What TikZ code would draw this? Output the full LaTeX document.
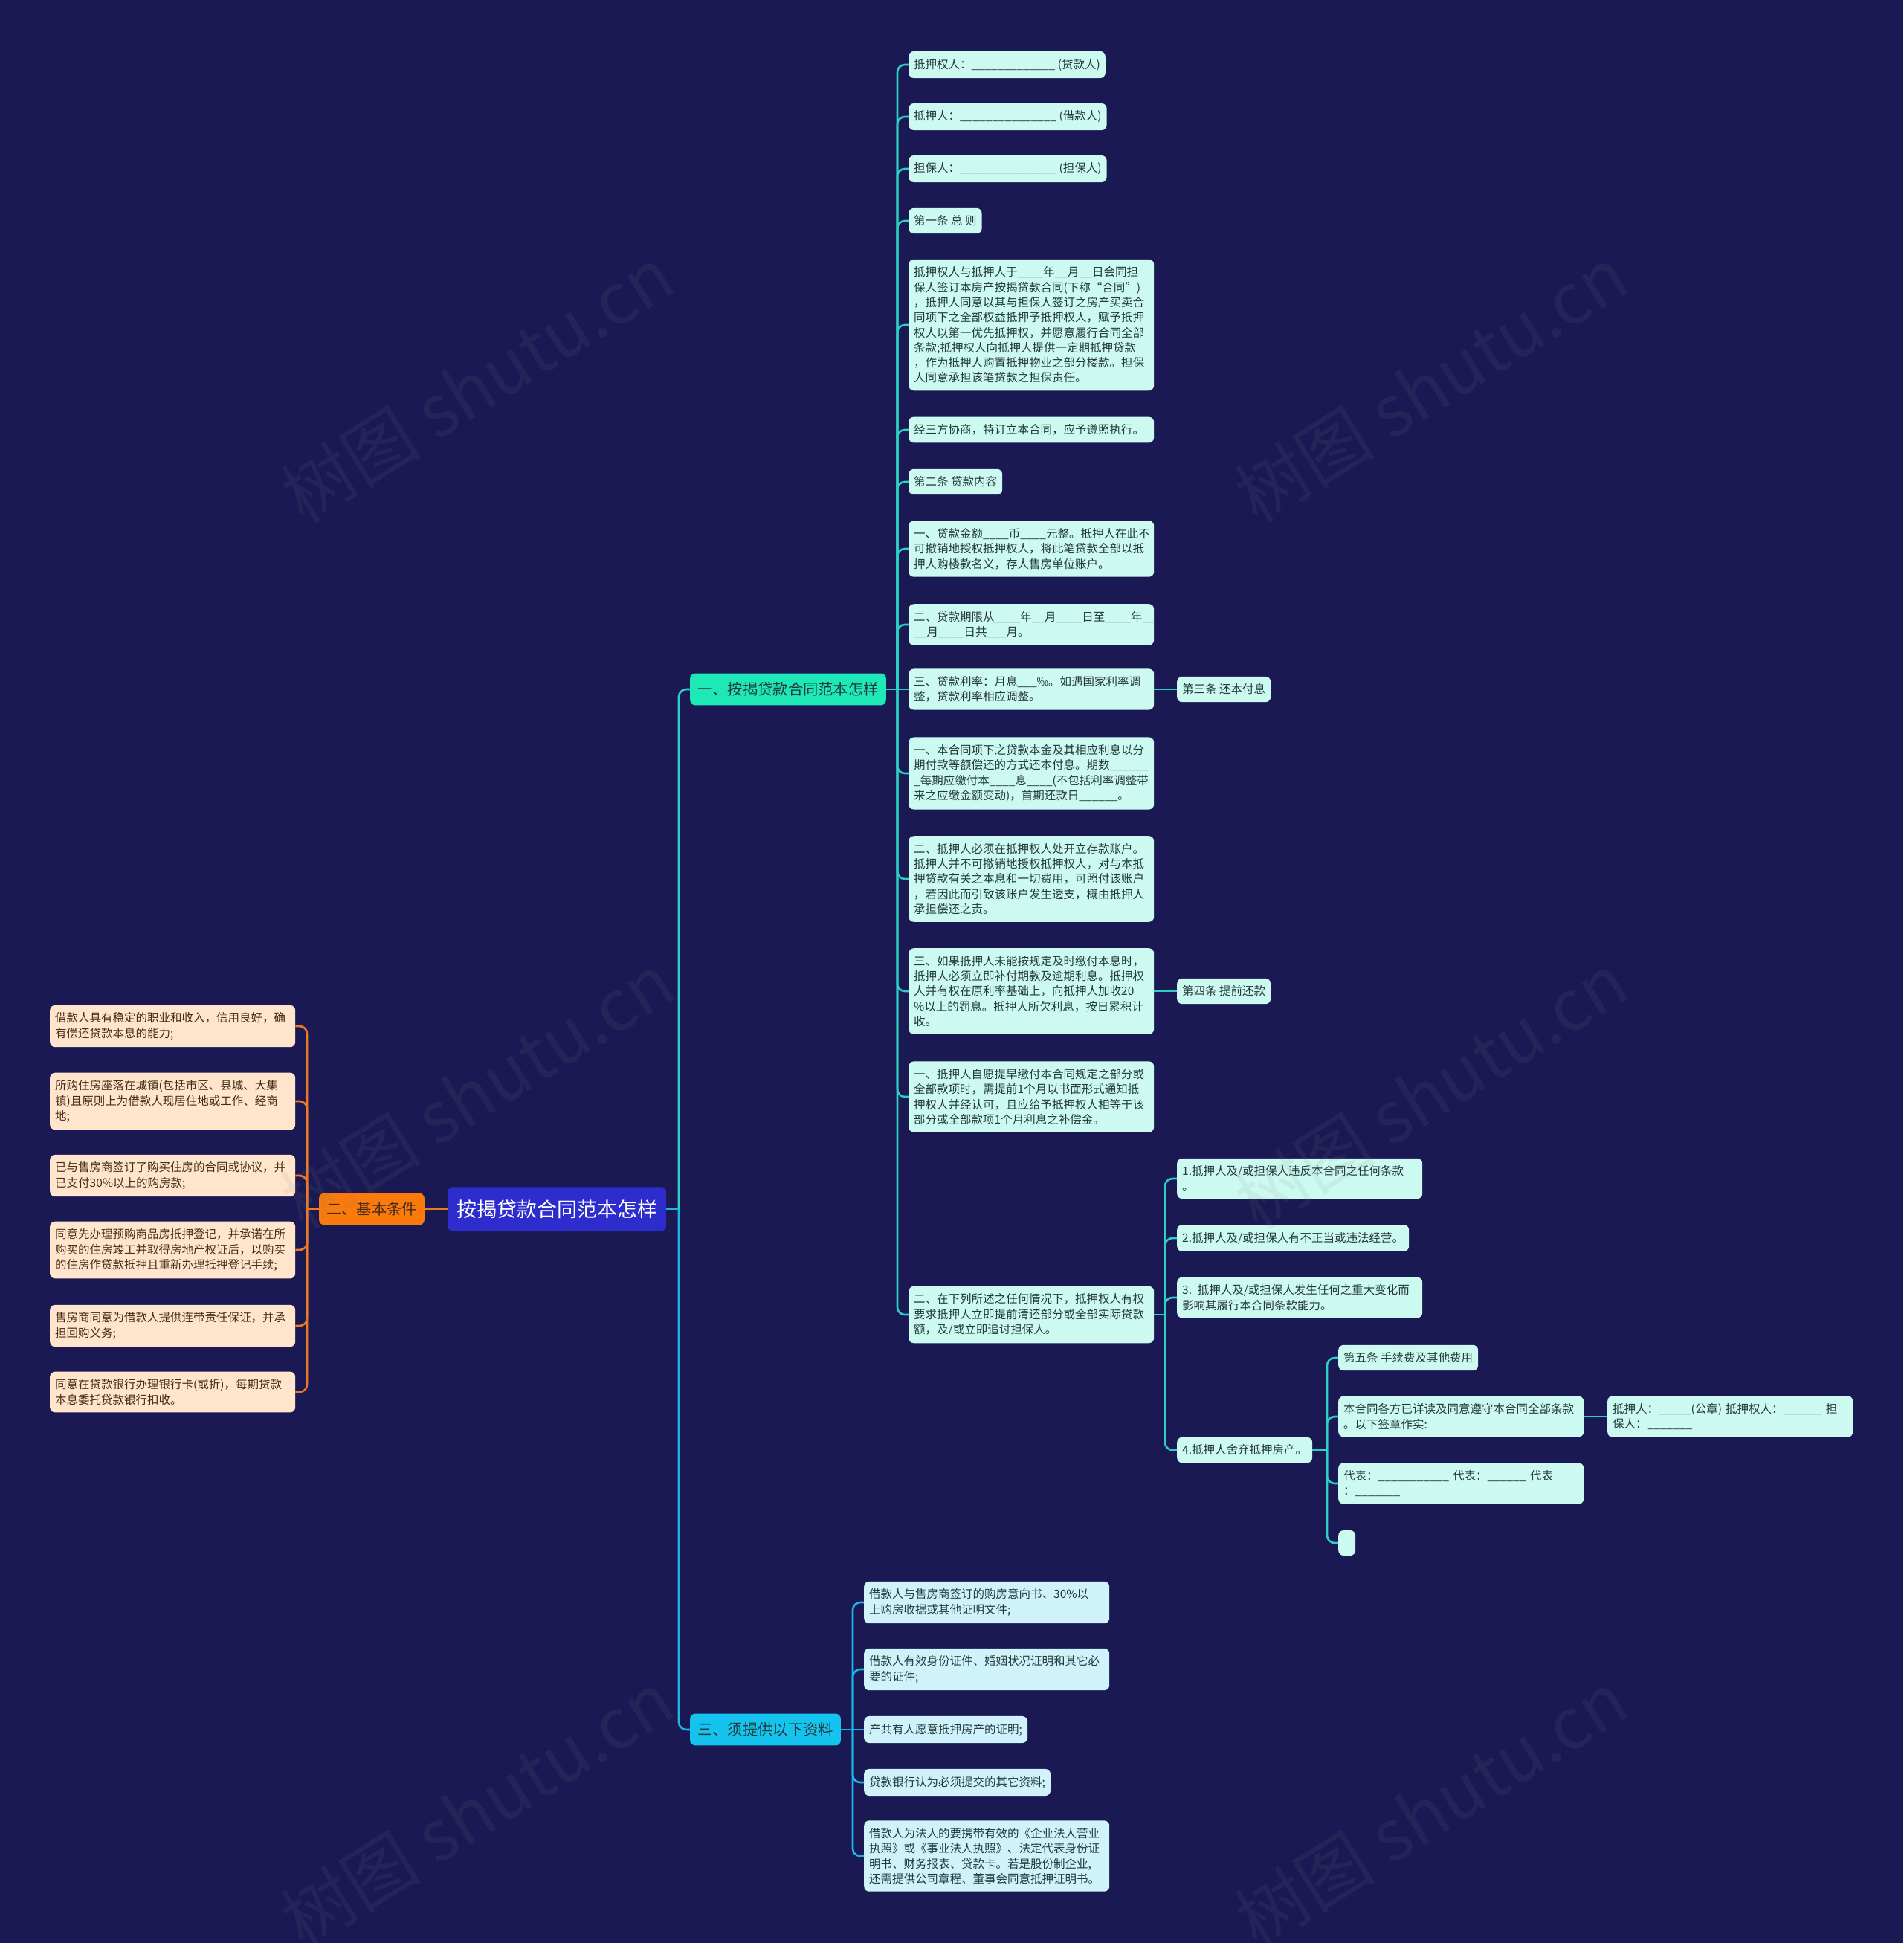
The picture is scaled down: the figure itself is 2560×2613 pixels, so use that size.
\documentclass[tikz,border=0pt]{standalone}
\usepackage{fontspec}
\setmainfont{Noto Sans CJK SC}
\usepackage{tikz}
\usetikzlibrary{positioning}
\definecolor{mapbg}{RGB}{27,25,83}
\definecolor{rootblue}{RGB}{45,45,205}
\definecolor{tealhead}{RGB}{30,232,182}
\definecolor{cyanhead}{RGB}{20,196,238}
\definecolor{orangehead}{RGB}{250,122,12}
\definecolor{mintbox}{RGB}{205,250,240}
\definecolor{skybox}{RGB}{208,243,251}
\definecolor{peachbox}{RGB}{255,229,204}
\definecolor{tealline}{RGB}{44,208,196}
\definecolor{blueline}{RGB}{28,182,230}
\definecolor{orangeline}{RGB}{236,122,36}
\definecolor{textdark}{RGB}{35,58,60}
\definecolor{textbrown}{RGB}{70,45,25}
\newcommand{\ub}[1]{\foreach\i in {1,...,#1}{\_}}

\begin{document}
\begin{tikzpicture}[x=1pt,y=-1pt,
  box/.style={rounded corners=7pt,inner xsep=7pt,inner ysep=10pt,align=left,
    text=textdark,font=\fontsize{15.5}{20.3}\selectfont},
  mint/.style={box,fill=mintbox,anchor=west},
  sky/.style={box,fill=skybox,anchor=west},
  peach/.style={box,fill=peachbox,text=textbrown,anchor=west},
  wide/.style={text width=316pt},
  head/.style={rounded corners=7pt,inner xsep=10pt,inner ysep=12pt,
    font=\fontsize{20.3}{24}\selectfont,text=textdark},
  tline/.style={draw=tealline,line width=2.6pt},
  bline/.style={draw=blueline,line width=2.6pt},
  oline/.style={draw=orangeline,line width=2.6pt},
  wmark/.style={text=gray,opacity=0.1,rotate=32,font=\fontsize{95}{95}\selectfont}]

  \fill[mapbg] (0,0) rectangle (2560,2613);
  \useasboundingbox (0,0) rectangle (2560,2613);

  % centre and main branches
  \node[fill=rootblue,rounded corners=7pt,inner xsep=12pt,inner ysep=17pt,text=white,
    font=\fontsize{27}{30}\selectfont] (root) at (749,1626) {按揭贷款合同范本怎样};
  \node[head,fill=orangehead,text=textbrown] (jb) at (500,1626) {二、基本条件};
  \node[head,fill=tealhead,anchor=west] (b1) at (928,927) {一、按揭贷款合同范本怎样};
  \node[head,fill=cyanhead,anchor=west] (b3) at (928,2326) {三、须提供以下资料};

  \coordinate (j0) at (913,1626);
  \coordinate (jl) at (413,1626);
  \coordinate (j1) at (1207,927);
  \coordinate (j3) at (1147,2326);
  \coordinate (j15) at (1567,1768);
  \coordinate (j4) at (1785,1950);

  % basic conditions
  \node[peach,wide] (l1) at (67,1380) {借款人具有稳定的职业和收入，信用良好，确\\有偿还贷款本息的能力;};
  \node[peach,wide] (l2) at (67,1481) {所购住房座落在城镇(包括市区、县城、大集\\镇)且原则上为借款人现居住地或工作、经商\\地;};
  \node[peach,wide] (l3) at (67,1581) {已与售房商签订了购买住房的合同或协议，并\\已支付30\%以上的购房款;};
  \node[peach,wide] (l4) at (67,1681) {同意先办理预购商品房抵押登记，并承诺在所\\购买的住房竣工并取得房地产权证后，以购买\\的住房作贷款抵押且重新办理抵押登记手续;};
  \node[peach,wide] (l5) at (67,1783) {售房商同意为借款人提供连带责任保证，并承\\担回购义务;};
  \node[peach,wide] (l6) at (67,1872) {同意在贷款银行办理银行卡(或折)，每期贷款\\本息委托贷款银行扣收。};

  % contract text
  \node[mint] (c1) at (1222,87) {抵押权人：\ub{13} (贷款人)};
  \node[mint] (c2) at (1222,157) {抵押人：\ub{15} (借款人)};
  \node[mint] (c3) at (1222,227) {担保人：\ub{15} (担保人)};
  \node[mint] (c4) at (1222,297) {第一条 总 则};
  \node[mint,wide] (c5) at (1222,437) {抵押权人与抵押人于\ub{4}年\ub{2}月\ub{2}日会同担\\保人签订本房产按揭贷款合同(下称“合同”)\\，抵押人同意以其与担保人签订之房产买卖合\\同项下之全部权益抵押予抵押权人，赋予抵押\\权人以第一优先抵押权，并愿意履行合同全部\\条款;抵押权人向抵押人提供一定期抵押贷款\\，作为抵押人购置抵押物业之部分楼款。担保\\人同意承担该笔贷款之担保责任。};
  \node[mint,wide] (c6) at (1222,578) {经三方协商，特订立本合同，应予遵照执行。};
  \node[mint] (c7) at (1222,648) {第二条 贷款内容};
  \node[mint,wide] (c8) at (1222,738) {一、贷款金额\ub{4}币\ub{4}元整。抵押人在此不\\可撤销地授权抵押权人，将此笔贷款全部以抵\\押人购楼款名义，存人售房单位账户。};
  \node[mint,wide] (c9) at (1222,840) {二、贷款期限从\ub{4}年\ub{2}月\ub{4}日至\ub{4}年\ub{2}\\\ub{2}月\ub{4}日共\ub{3}月。};
  \node[mint,wide] (c10) at (1222,927) {三、贷款利率：月息\ub{3}‰。如遇国家利率调\\整，贷款利率相应调整。};
  \node[mint,wide] (c11) at (1222,1040) {一、本合同项下之贷款本金及其相应利息以分\\期付款等额偿还的方式还本付息。期数\ub{6}\\\_每期应缴付本\ub{4}息\ub{4}(不包括利率调整带\\来之应缴金额变动)，首期还款日\ub{6}。};
  \node[mint,wide] (c12) at (1222,1182) {二、抵押人必须在抵押权人处开立存款账户。\\抵押人并不可撤销地授权抵押权人，对与本抵\\押贷款有关之本息和一切费用，可照付该账户\\，若因此而引致该账户发生透支，概由抵押人\\承担偿还之责。};
  \node[mint,wide] (c13) at (1222,1333) {三、如果抵押人未能按规定及时缴付本息时，\\抵押人必须立即补付期款及逾期利息。抵押权\\人并有权在原利率基础上，向抵押人加收20\\\%以上的罚息。抵押人所欠利息，按日累积计\\收。};
  \node[mint,wide] (c14) at (1222,1475) {一、抵押人自愿提早缴付本合同规定之部分或\\全部款项时，需提前1个月以书面形式通知抵\\押权人并经认可，且应给予抵押权人相等于该\\部分或全部款项1个月利息之补偿金。};
  \node[mint,wide] (c15) at (1222,1768) {二、在下列所述之任何情况下，抵押权人有权\\要求抵押人立即提前清还部分或全部实际贷款\\额，及/或立即追讨担保人。};
  \node[mint] (s3) at (1583,927) {第三条 还本付息};
  \node[mint] (s4) at (1583,1333) {第四条 提前还款};

  \node[mint,wide] (d1) at (1583,1585) {1.抵押人及/或担保人违反本合同之任何条款\\。};
  \node[mint] (d2) at (1583,1665) {2.抵押人及/或担保人有不正当或违法经营。};
  \node[mint,wide] (d3) at (1583,1745) {3. 抵押人及/或担保人发生任何之重大变化而\\影响其履行本合同条款能力。};
  \node[mint] (d4) at (1583,1950) {4.抵押人舍弃抵押房产。};

  \node[mint] (e1) at (1800,1826) {第五条 手续费及其他费用};
  \node[mint,wide] (e2) at (1800,1905) {本合同各方已详读及同意遵守本合同全部条款\\。以下签章作实:};
  \node[mint,wide] (e3) at (1800,1995) {代表：\ub{11} 代表：\ub{6} 代表\\：\ub{7}};
  \node[mint,minimum width=23pt,minimum height=34pt] (e4) at (1800,2075) {};
  \node[mint,wide] (f1) at (2162,1905) {抵押人：\ub{5}(公章) 抵押权人：\ub{6} 担\\保人：\ub{7}};

  % documents
  \node[sky,wide] (g1) at (1162,2155) {借款人与售房商签订的购房意向书、30\%以\\上购房收据或其他证明文件;};
  \node[sky,wide] (g2) at (1162,2245) {借款人有效身份证件、婚姻状况证明和其它必\\要的证件;};
  \node[sky] (g3) at (1162,2326) {产共有人愿意抵押房产的证明;};
  \node[sky] (g4) at (1162,2397) {贷款银行认为必须提交的其它资料;};
  \node[sky,wide] (g5) at (1162,2496) {借款人为法人的要携带有效的《企业法人营业\\执照》或《事业法人执照》、法定代表身份证\\明书、财务报表、贷款卡。若是股份制企业,\\还需提供公司章程、董事会同意抵押证明书。};

  % connectors
  \draw[oline] (root.west) -- (jb.east);
  \draw[oline] (jb.west) -- (jl);
  \foreach \n in {l1,l2,l3,l4,l5,l6}
    \draw[oline,rounded corners=10pt] (jl) |- (\n.east);

  \draw[bline] (root.east) -- (j0);
  \draw[tline,rounded corners=10pt] (j0) |- (b1.west);
  \draw[bline,rounded corners=10pt] (j0) |- (b3.west);

  \draw[tline] (b1.east) -- (j1);
  \foreach \n in {c1,c2,c3,c4,c5,c6,c7,c8,c9,c11,c12,c13,c14,c15}
    \draw[tline,rounded corners=10pt] (j1) |- (\n.west);
  \draw[tline] (j1) -- (c10.west);
  \draw[tline] (c10.east) -- (s3.west);
  \draw[tline] (c13.east) -- (s4.west);

  \draw[tline] (c15.east) -- (j15);
  \foreach \n in {d1,d2,d3,d4}
    \draw[tline,rounded corners=10pt] (j15) |- (\n.west);
  \draw[tline] (d4.east) -- (j4);
  \foreach \n in {e1,e2,e3,e4}
    \draw[tline,rounded corners=10pt] (j4) |- (\n.west);
  \draw[tline] (e2.east) -- (f1.west);

  \draw[bline] (b3.east) -- (j3);
  \foreach \n in {g1,g2,g4,g5}
    \draw[bline,rounded corners=10pt] (j3) |- (\n.west);
  \draw[bline] (j3) -- (g3.west);

  % watermarks
  \foreach \wx/\wy [count=\k] in {642/517,1925/517,642/1467,1925/1467,642/2433,1925/2433}
    \node[wmark] (wm\k) at (\wx,\wy) {树图 shutu.cn};
\end{tikzpicture}
\end{document}
